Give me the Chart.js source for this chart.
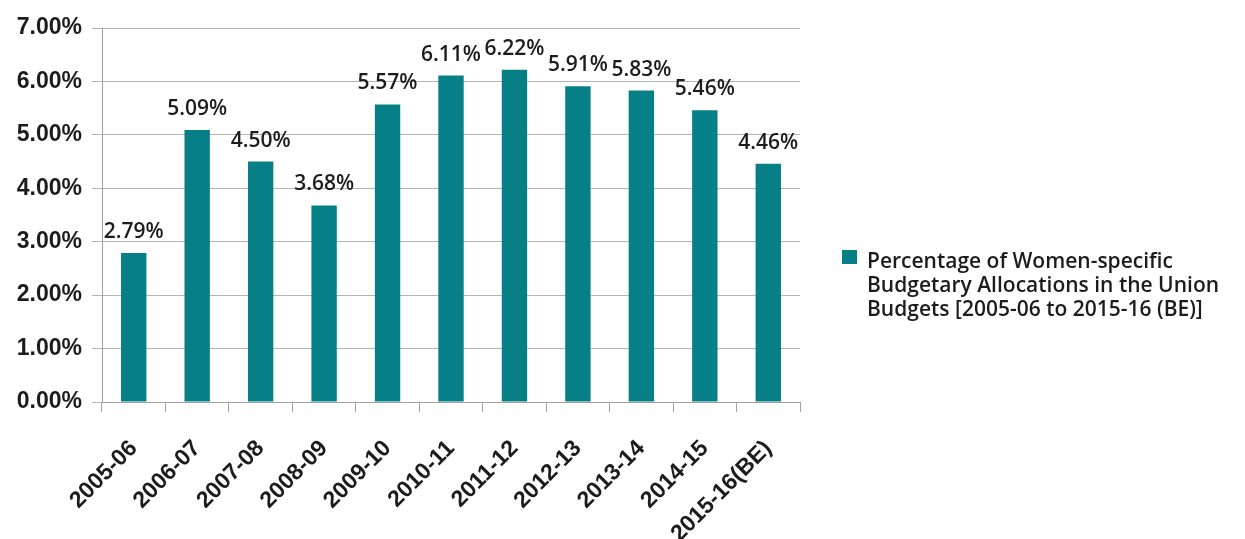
<!DOCTYPE html>
<html>
<head>
<meta charset="utf-8">
<title>Women-specific budgetary allocations</title>
<script src="https://cdn.jsdelivr.net/npm/chart.js@4.4.1/dist/chart.umd.min.js"></script>
<style>
  html, body { margin: 0; padding: 0; background: #fff; }
</style>
</head>
<body>
<canvas id="budgetChart" width="1245" height="539"></canvas>
<script>
// budget years and the women-specific share (%) of the Union Budget
const years = ['2005-06', '2006-07', '2007-08', '2008-09', '2009-10', '2010-11',
               '2011-12', '2012-13', '2013-14', '2014-15', '2015-16(BE)'];
const shares = [2.79, 5.09, 4.50, 3.68, 5.57, 6.11, 6.22, 5.91, 5.83, 5.46, 4.46];
const yTicks = [0, 1, 2, 3, 4, 5, 6, 7];
const legendLines = ['Percentage of Women-specific',
                     'Budgetary Allocations in the Union',
                     'Budgets [2005-06 to 2015-16 (BE)]'];

const barColor = '#077f87';
const textColor = '#1c1c1c';
const axisFont = { family: 'Liberation Sans, Arial, sans-serif', size: 23, weight: 'bold' };
const labelFont = '600 21px "Open Sans", sans-serif';
const legendFont = '600 21px "Open Sans", sans-serif';

// value labels above each bar
const valueLabels = {
  id: 'valueLabels',
  afterDatasetsDraw(chart) {
    const ctx = chart.ctx;
    const meta = chart.getDatasetMeta(0);
    ctx.save();
    ctx.font = labelFont;
    ctx.fillStyle = textColor;
    ctx.textAlign = 'center';
    ctx.textBaseline = 'alphabetic';
    meta.data.forEach((bar, i) => {
      ctx.fillText(shares[i].toFixed(2) + '%', bar.x, bar.y - 15);
    });
    ctx.restore();
  }
};

// legend on the right, wrapped over three lines
const sideLegend = {
  id: 'sideLegend',
  afterDraw(chart) {
    const ctx = chart.ctx;
    const x = chart.chartArea.right + 42;
    const y = 250;
    ctx.save();
    ctx.fillStyle = barColor;
    ctx.fillRect(x, y, 15, 14);
    ctx.font = legendFont;
    ctx.fillStyle = textColor;
    ctx.textAlign = 'left';
    ctx.textBaseline = 'alphabetic';
    legendLines.forEach((line, i) => {
      ctx.fillText(line, x + 25, y + 18 + i * 24);
    });
    ctx.restore();
  }
};

new Chart(document.getElementById('budgetChart'), {
  type: 'bar',
  data: {
    labels: years,
    datasets: [{
      label: legendLines.join(' '),
      data: shares,
      backgroundColor: barColor,
      barPercentage: 0.4,
      categoryPercentage: 1.0
    }]
  },
  options: {
    responsive: false,
    animation: false,
    devicePixelRatio: 1,
    layout: { padding: { top: 28, right: 445, left: 0, bottom: 0 } },
    plugins: {
      legend: { display: false },
      tooltip: { enabled: false }
    },
    scales: {
      x: {
        grid: { drawOnChartArea: false, offset: true, tickLength: 10, color: '#a0a0a0' },
        border: { color: '#a0a0a0' },
        ticks: {
          minRotation: 45, maxRotation: 45, padding: 23, autoSkip: false,
          color: textColor, font: axisFont
        },
        afterFit: s => { s.height = 137; }
      },
      y: {
        min: 0, max: 7,
        afterBuildTicks: s => { s.ticks = yTicks.map(v => ({ value: v })); },
        grid: { color: '#b4b4b4', tickLength: 10 },
        border: { color: '#a0a0a0' },
        ticks: {
          padding: 10, color: textColor, font: axisFont,
          callback: v => v.toFixed(2) + '%'
        },
        afterFit: s => { s.width = 102; }
      }
    }
  },
  plugins: [valueLabels, sideLegend]
});
</script>
</body>
</html>
